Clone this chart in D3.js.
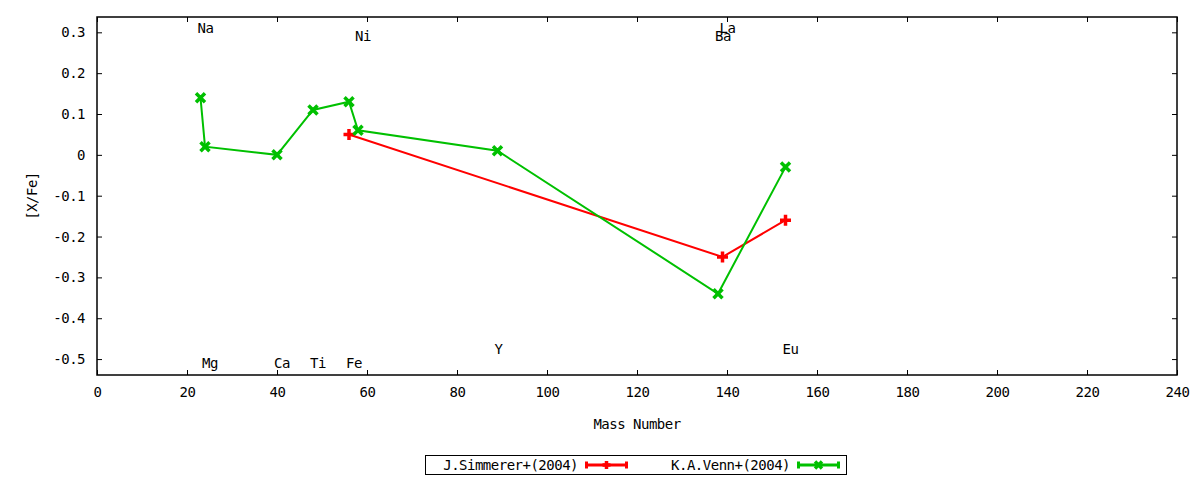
<!DOCTYPE html>
<html>
<head>
<meta charset="utf-8">
<script src="https://cdn.jsdelivr.net/npm/d3@7"></script>
<style>
  body { margin: 0; background: #fff; }
  text { font-family: "DejaVu Sans Mono", monospace; font-size: 14px; letter-spacing: -0.5px; fill: #000; }
</style>
</head>
<body>
<script>
// Venn+(2004)
const vennMass = [23, 24, 40, 48, 56, 58, 89, 138, 153];
const vennVal = [0.14, 0.02, 0.00, 0.11, 0.13, 0.06, 0.01, -0.34, -0.03];
// Simmerer+(2004)
const simMass = [56, 139, 153];
const simVal = [0.05, -0.25, -0.16];

const elemNames = ['Na', 'Mg', 'Ca', 'Ti', 'Fe', 'Ni', 'Y', 'Ba', 'La', 'Eu'];
const elemMass = [23, 24, 40, 48, 56, 58, 89, 138, 139, 153];
const elemY = [0.31, -0.51, -0.51, -0.51, -0.51, 0.29, -0.475, 0.29, 0.31, -0.475];

const xTicks = [0, 20, 40, 60, 80, 100, 120, 140, 160, 180, 200, 220, 240];
const yTicks = [-0.5, -0.4, -0.3, -0.2, -0.1, 0, 0.1, 0.2, 0.3];
const yTickLabels = ['-0.5', '-0.4', '-0.3', '-0.2', '-0.1', '0', '0.1', '0.2', '0.3'];

const seriesNames = ['J.Simmerer+(2004)', 'K.A.Venn+(2004)'];
const seriesColors = ['#ff0000', '#00c000'];

const width = 1200, height = 480;
const margin = { left: 97, right: 23, top: 17, bottom: 105 };
const pw = width - margin.left - margin.right;
const ph = height - margin.top - margin.bottom;

const x = d3.scaleLinear().domain([0, 240]).range([0, pw]);
const y = d3.scaleLinear().domain([-0.539, 0.3375]).range([ph, 0]);

const svg = d3.select('body').append('svg')
  .attr('width', width).attr('height', height);

const g = svg.append('g')
  .attr('transform', `translate(${margin.left}, ${margin.top})`);

// axes with inward ticks, mirrored on top and right
const tick = 5;
g.append('g').attr('transform', `translate(0, ${ph})`)
  .call(d3.axisBottom(x).tickValues(xTicks).tickSize(-tick).tickPadding(12).tickFormat(d3.format('d')))
  .call(a => a.select('.domain').remove());
g.append('g')
  .call(d3.axisTop(x).tickValues(xTicks).tickSize(-tick).tickFormat(''))
  .call(a => a.select('.domain').remove());
g.append('g')
  .call(d3.axisLeft(y).tickValues(yTicks).tickSize(-tick).tickPadding(12)
    .tickFormat((d, i) => yTickLabels[i]))
  .call(a => a.select('.domain').remove());
g.append('g').attr('transform', `translate(${pw}, 0)`)
  .call(d3.axisRight(y).tickValues(yTicks).tickSize(-tick).tickFormat(''))
  .call(a => a.select('.domain').remove());
g.selectAll('.tick line').attr('stroke', '#000');
g.selectAll('.tick text').attr('font-size', 14).attr('font-family', '"DejaVu Sans Mono", monospace');

g.append('rect')
  .attr('width', pw).attr('height', ph)
  .attr('fill', 'none').attr('stroke', '#000').attr('stroke-width', 1.5);

// axis titles
svg.append('text')
  .attr('x', margin.left + pw / 2).attr('y', 429)
  .attr('text-anchor', 'middle')
  .text('Mass Number');
svg.append('text')
  .attr('transform', `translate(37, ${margin.top + ph / 2}) rotate(-90)`)
  .attr('text-anchor', 'middle')
  .text('[X/Fe]');

// element labels
g.selectAll('text.elem')
  .data(elemNames)
  .enter()
  .append('text')
  .attr('class', 'elem')
  .attr('x', (d, i) => x(elemMass[i]) - 3)
  .attr('y', (d, i) => y(elemY[i]))
  .attr('dy', '0.35em')
  .text(d => d);

function plus(sel, color, s) {
  sel.append('path')
    .attr('d', `M${-s},0H${s}M0,${-s}V${s}`)
    .attr('stroke', color).attr('stroke-width', 3.5).attr('fill', 'none');
}
function cross(sel, color, s) {
  sel.append('path')
    .attr('d', `M${-s},${-s}L${s},${s}M${-s},${s}L${s},${-s}`)
    .attr('stroke', color).attr('stroke-width', 3.5).attr('fill', 'none');
  sel.append('rect')
    .attr('x', -s / 2).attr('y', -s / 2).attr('width', s).attr('height', s)
    .attr('fill', color);
}

const line = d3.line();

// Simmerer
const simPts = simMass.map((m, i) => [x(m), y(simVal[i])]);
g.append('path')
  .attr('d', line(simPts))
  .attr('fill', 'none').attr('stroke', seriesColors[0]).attr('stroke-width', 2);
simPts.forEach(p => plus(g.append('g').attr('transform', `translate(${p[0]}, ${p[1]})`), seriesColors[0], 5.5));

// Venn
const vennPts = vennMass.map((m, i) => [x(m), y(vennVal[i])]);
g.append('path')
  .attr('d', line(vennPts))
  .attr('fill', 'none').attr('stroke', seriesColors[1]).attr('stroke-width', 2);
vennPts.forEach(p => cross(g.append('g').attr('transform', `translate(${p[0]}, ${p[1]})`), seriesColors[1], 4.5));

// legend
const leg = svg.append('g');
leg.append('rect')
  .attr('x', 425.5).attr('y', 455.5).attr('width', 421).attr('height', 19)
  .attr('fill', 'none').attr('stroke', '#000').attr('stroke-width', 1);
const legX = [585, 797];
seriesNames.forEach((name, i) => {
  const lx = legX[i], ly = 465;
  leg.append('text')
    .attr('x', lx - 7).attr('y', ly).attr('dy', '0.35em')
    .attr('text-anchor', 'end').text(name);
  leg.append('path')
    .attr('d', `M${lx},${ly}H${lx + 43}M${lx + 1.5},${ly - 3.5}V${ly + 3.5}M${lx + 41.5},${ly - 3.5}V${ly + 3.5}`)
    .attr('stroke', seriesColors[i]).attr('stroke-width', 3).attr('fill', 'none');
  const mk = leg.append('g').attr('transform', `translate(${lx + 21.5}, ${ly})`);
  if (i === 0) plus(mk, seriesColors[i], 4);
  else cross(mk, seriesColors[i], 3.5);
});
</script>
</body>
</html>
